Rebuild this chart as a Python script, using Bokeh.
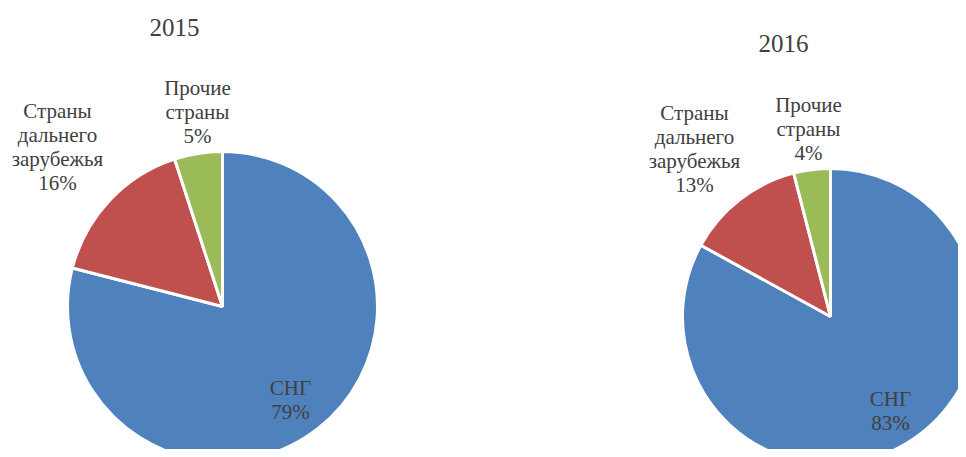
import math
from bokeh.plotting import figure
from bokeh.models import Range1d, ColumnDataSource
from bokeh.core.properties import value
from bokeh.embed import file_html
from bokeh.resources import INLINE

# ---- data ----
categories = ["СНГ", "Страны дальнего зарубежья", "Прочие страны"]
label_lines = ["СНГ", "Страны\nдальнего\nзарубежья", "Прочие\nстраны"]
years = ["2015", "2016"]
share_2015 = [79, 16, 5]
share_2016 = [83, 13, 4]
colors = ["#4F81BD", "#C0504D", "#9BBB59"]

W, H = 958, 449
FONT = "Liberation Serif"
TXT = "#404040"

p = figure(width=W, height=H, x_range=Range1d(0, W), y_range=Range1d(0, H),
           output_backend="svg", toolbar_location=None,
           x_axis_type=None, y_axis_type=None, min_border=0,
           background_fill_color="white", border_fill_color="white")
p.outline_line_color = None
p.grid.visible = False


def sx(x):
    return x


def sy(y):
    return H - y


# layout of each pie (screen px): center, radius, title pos, label positions
layouts = [
    dict(cx=222, cy=306, r=155, title=(174, 27),
         labels=[(290, 399), (57, 146), (197, 111)]),
    dict(cx=830, cy=316, r=148, title=(783, 43),
         labels=[(890, 410), (694, 148), (808, 128)]),
]

for year, shares, lay in zip(years, [share_2015, share_2016], layouts):
    total = float(sum(shares))
    cum = 0.0
    starts, ends = [], []
    for v in shares:
        a = cum / total
        b = (cum + v) / total
        starts.append(math.pi / 2 - 2 * math.pi * b)
        ends.append(math.pi / 2 - 2 * math.pi * a)
        cum += v
    src = ColumnDataSource(dict(x=[sx(lay["cx"])] * len(shares),
                                y=[sy(lay["cy"])] * len(shares),
                                start=starts, end=ends, color=colors))
    p.wedge(x="x", y="y", radius=lay["r"], start_angle="start", end_angle="end",
            fill_color="color", line_color="white", line_width=3, source=src)

    texts = [f"{lbl}\n{v}%" for lbl, v in zip(label_lines, shares)]
    lsrc = ColumnDataSource(dict(x=[sx(px) for px, py in lay["labels"]],
                                 y=[sy(py) for px, py in lay["labels"]],
                                 t=texts))
    p.text(x="x", y="y", text="t", source=lsrc, text_align="center",
           text_baseline="middle", text_font=value(FONT), text_font_size="21px",
           text_color=TXT, text_line_height=1.0)

    tx, ty = lay["title"]
    p.text(x=[sx(tx)], y=[sy(ty)], text=[year], text_align="center",
           text_baseline="middle", text_font=value(FONT), text_font_size="25px",
           text_color=TXT)

open("out.html", "w").write(file_html(p, INLINE))
